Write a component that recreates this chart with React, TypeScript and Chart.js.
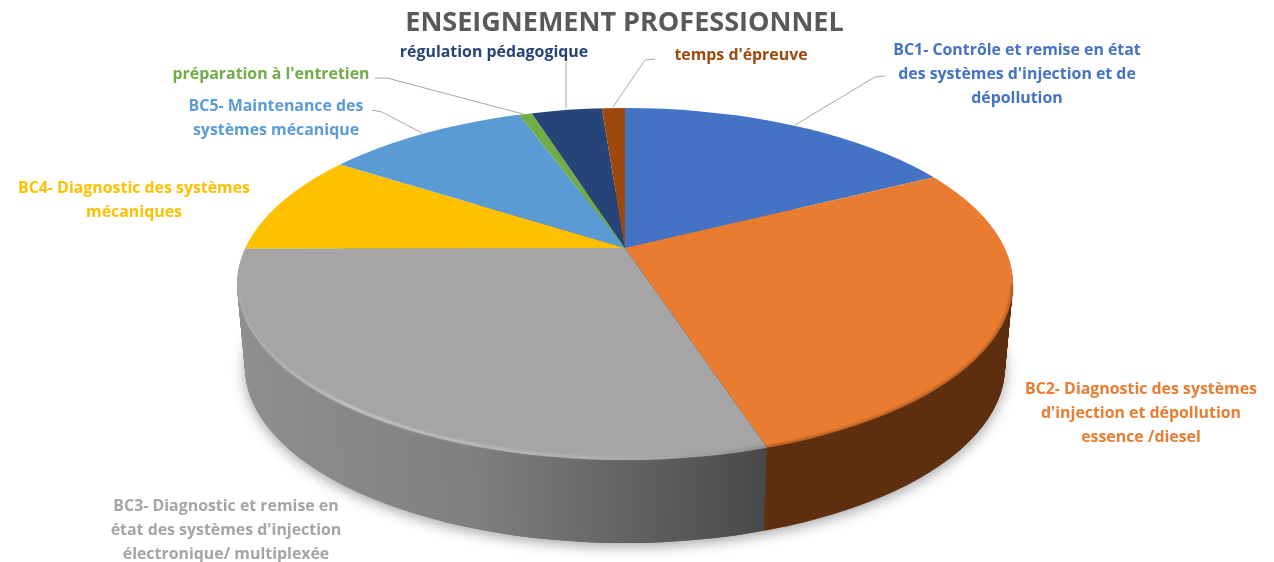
import React, { useEffect, useRef } from "react";
import { Chart, registerables } from "chart.js";

Chart.register(...registerables);

const chartTitle = "ENSEIGNEMENT PROFESSIONNEL";
const categories = [
  "BC1- Contrôle et remise en état des systèmes d'injection et de dépollution",
  "BC2- Diagnostic des systèmes d'injection et dépollution essence /diesel",
  "BC3- Diagnostic et remise en état des systèmes d'injection électronique/ multiplexée",
  "BC4- Diagnostic des systèmes mécaniques",
  "BC5- Maintenance des systèmes mécanique",
  "préparation à l'entretien",
  "régulation pédagogique",
  "temps d'épreuve",
];
const shares = [16.0, 28.3, 30.7, 10.9, 9.7, 0.55, 2.95, 0.95];
const sliceColors = ["#4472c4", "#e97c30", "#a5a5a5", "#ffc000", "#5b9bd5", "#70ad47", "#264478", "#9e480e"];
const labelLines = [
  ["BC1- Contrôle et remise en état", "des systèmes d'injection et de", "dépollution"],
  ["BC2- Diagnostic des systèmes", "d'injection et dépollution", "essence /diesel"],
  ["BC3- Diagnostic et remise en", "état des systèmes d'injection", "électronique/ multiplexée"],
  ["BC4- Diagnostic des systèmes", "mécaniques"],
  ["BC5- Maintenance des", "systèmes mécanique"],
  ["préparation à l'entretien"],
  ["régulation pédagogique"],
  ["temps d'épreuve"],
];
const labelAnchors = [
  [1017, 50], [1141, 389], [226, 506], [134, 188], [276, 106], [271, 74], [494, 52], [741, 55],
];
const leaderLines: number[][][] = [
  [[885, 76], [875, 77], [795, 125]],
  [],
  [],
  [],
  [[372, 110], [382, 112], [422, 133]],
  [[375, 78], [387, 78], [523, 114]],
  [[566, 62], [566, 108]],
  [[655, 59], [645, 60], [613, 107]],
];

const CX = 625;
const APEX_Y = 248;
const RIM_CY = 284;
const RIM_RX = 388;
const RIM_RY = 176;
const DEPTH = 83;
const RX_SHRINK = 8;
const K = 1.3;
const SPREAD_X = 388 * K;
const SPREAD_UP = 140 * K;
const SPREAD_DOWN = 205 * K;

function paintLayer(ctx: CanvasRenderingContext2D, arcs: any[], d: number, sxRatio: number) {
  const base = arcs[0];
  const R = base.outerRadius;
  ctx.save();
  ctx.beginPath();
  ctx.ellipse(CX, RIM_CY + d, RIM_RX * sxRatio, RIM_RY, 0, 0, Math.PI * 2);
  ctx.clip();
  for (const half of [0, 1]) {
    ctx.save();
    ctx.beginPath();
    if (half === 0) ctx.rect(0, 0, 1274, APEX_Y + d + 0.5);
    else ctx.rect(0, APEX_Y + d, 1274, 562);
    ctx.clip();
    ctx.translate(CX, APEX_Y + d);
    ctx.scale((SPREAD_X * sxRatio) / R, (half === 0 ? SPREAD_UP : SPREAD_DOWN) / R);
    ctx.translate(-base.x, -base.y);
    for (const a of arcs) a.draw(ctx);
    ctx.restore();
  }
  ctx.restore();
}

const pie3d = {
  id: "pie3d",
  beforeDatasetsDraw(chart: any) {
    const ctx: CanvasRenderingContext2D = chart.ctx;
    const arcs = chart.getDatasetMeta(0).data;
    const base = arcs[0];
    const R = base.outerRadius;
    const sx = SPREAD_X / R;

    // soft ground shadow under the disc
    ctx.save();
    ctx.shadowColor = "rgba(0,0,0,0.38)";
    ctx.shadowBlur = 14;
    ctx.shadowOffsetY = 3;
    ctx.fillStyle = "#777";
    ctx.beginPath();
    ctx.ellipse(CX, RIM_CY + DEPTH, RIM_RX - RX_SHRINK, RIM_RY, 0, 0, Math.PI * 2);
    ctx.fill();
    ctx.restore();

    // side wall, from the library's arcs repeated downwards
    const toLocal = (px: number) => base.x + (px - CX) / sx;
    const grayWall = ctx.createLinearGradient(toLocal(237), 0, toLocal(765), 0);
    grayWall.addColorStop(0, "#8f8f8f");
    grayWall.addColorStop(0.45, "#7f7f7f");
    grayWall.addColorStop(0.75, "#626262");
    grayWall.addColorStop(1, "#47494b");
    const wallArcs = [arcs[1], arcs[2]];
    const saved = wallArcs.map((a: any) => a.options);
    arcs[1].options = { ...saved[0], backgroundColor: "#5f3010" };
    arcs[2].options = { ...saved[1], backgroundColor: grayWall };
    for (let d = DEPTH; d >= 1; d--) {
      paintLayer(ctx, wallArcs, d, (RIM_RX - (RX_SHRINK * d) / DEPTH) / RIM_RX);
    }
    arcs[1].options = saved[0];
    arcs[2].options = saved[1];

    // top face
    paintLayer(ctx, arcs, 0, 1);

    // bevel along the rim
    const seam = Math.acos((765 - CX) / RIM_RX);
    ctx.save();
    ctx.lineCap = "butt";
    ctx.filter = "blur(0.8px)";
    const rimGray = ctx.createLinearGradient(237, 0, 765, 0);
    rimGray.addColorStop(0, "rgba(205,205,205,0.15)");
    rimGray.addColorStop(0.2, "rgba(225,225,225,0.65)");
    rimGray.addColorStop(0.7, "rgba(205,205,205,0.35)");
    rimGray.addColorStop(1, "rgba(110,110,110,0.5)");
    ctx.strokeStyle = rimGray;
    ctx.lineWidth = 2.5;
    ctx.beginPath();
    ctx.ellipse(CX, RIM_CY, RIM_RX - 1.5, RIM_RY - 1.5, 0, seam, Math.PI * 1.02);
    ctx.stroke();
    ctx.strokeStyle = "rgba(110,56,18,0.45)";
    ctx.lineWidth = 2.5;
    ctx.beginPath();
    ctx.ellipse(CX, RIM_CY, RIM_RX - 1, RIM_RY - 1, 0, 0, seam);
    ctx.stroke();
    ctx.restore();

    // leader lines
    ctx.save();
    ctx.strokeStyle = "#a6a6a6";
    ctx.lineWidth = 1;
    for (const pts of leaderLines) {
      if (!pts.length) continue;
      ctx.beginPath();
      pts.forEach((p, i) => (i ? ctx.lineTo(p[0], p[1]) : ctx.moveTo(p[0], p[1])));
      ctx.stroke();
    }
    ctx.restore();

    // labels
    ctx.save();
    ctx.textAlign = "center";
    ctx.textBaseline = "middle";
    ctx.font = 'bold 15.9px "Open Sans"';
    labelLines.forEach((lines, i) => {
      ctx.fillStyle = sliceColors[i];
      lines.forEach((line, j) => {
        ctx.fillText(line, labelAnchors[i][0], labelAnchors[i][1] + j * 24.3);
      });
    });
    ctx.restore();
    return false;
  },
};

export default function App() {
  const ref = useRef<HTMLCanvasElement>(null);
  useEffect(() => {
    const chart = new Chart(ref.current as HTMLCanvasElement, {
      type: "pie",
      data: {
        labels: categories,
        datasets: [{ data: shares, backgroundColor: sliceColors, borderWidth: 0 }],
      },
      options: {
        responsive: false,
        animation: false,
        layout: { padding: { right: 25 } },
        plugins: {
          legend: { display: false },
          tooltip: { enabled: false },
          title: {
            display: true,
            text: chartTitle,
            color: "#595959",
            font: { family: '"Open Sans"', size: 27, weight: "bold" },
            padding: { top: 7, bottom: 6 },
          },
        },
      },
      plugins: [pie3d],
    } as any);
    return () => chart.destroy();
  }, []);
  return (
    <div style={{ position: "absolute", left: 0, top: 0, width: 1274, height: 562, background: "#fff" }}>
      <canvas ref={ref} width={1274} height={562} style={{ display: "block" }} />
    </div>
  );
}
